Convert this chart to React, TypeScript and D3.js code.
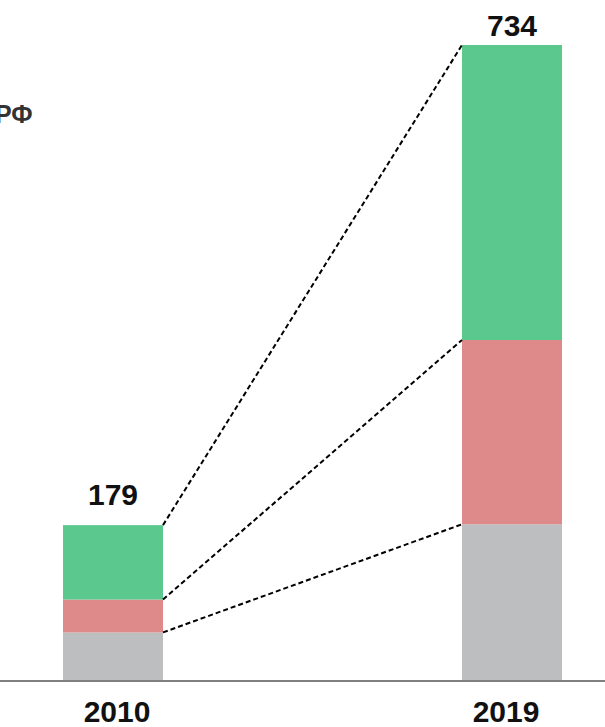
import React from 'react';
import * as d3 from 'd3';

// Years and the three stacked parts (bottom to top)
const years = ['2010', '2019'];
const greyPart = [55, 180];
const redPart = [38, 213];
const greenPart = [86, 341];
const totals = [179, 734];

const colors = ['#bdbec0', '#de8a8b', '#5bc88d'];

const App = () => {
  const width = 605;
  const height = 727;

  // band positions of the two bars
  const x = d3.scaleBand<string>()
    .domain(years)
    .range([63, 562])
    .paddingInner(299 / 399)
    .paddingOuter(0);

  const y = d3.scaleLinear().domain([0, 734]).range([680, 45]);

  const rows = years.map((yr, i) => ({ year: yr, grey: greyPart[i], red: redPart[i], green: greenPart[i] }));
  const series = d3.stack<any>().keys(['grey', 'red', 'green'])(rows);

  const bw = x.bandwidth();
  const x0 = x(years[0])! + bw;
  const x1 = x(years[1])!;
  const labelGap = [20, 9];

  return (
    <svg width={width} height={height} style={{ position: 'absolute', left: 0, top: 0 }}>
      <text x={-5} y={123} fontFamily="Liberation Sans, Arial" fontWeight="bold" fontSize={25} fill="#333">РФ</text>

      {series.map((s, k) => (
        <g key={k} fill={colors[k]}>
          {s.map((d, i) => (
            <rect key={i} x={x(years[i])} width={bw} y={y(d[1])} height={y(d[0]) - y(d[1])} />
          ))}
        </g>
      ))}

      {/* dashed links between segment tops */}
      {series.map((s, k) => (
        <line key={k} x1={x0} y1={y(s[0][1])} x2={x1} y2={y(s[1][1])}
          stroke="#000" strokeWidth={2} strokeDasharray="5,3" />
      ))}

      <line x1={0} x2={width} y1={681} y2={681} stroke="#7f7f7f" strokeWidth={2} />

      {years.map((yr, i) => (
        <text key={yr} x={x(yr)! + bw / 2} y={y(totals[i]) - labelGap[i]} textAnchor="middle"
          fontFamily="Liberation Sans, Arial" fontWeight="bold" fontSize={30} fill="#111">{totals[i]}</text>
      ))}
      {years.map((yr, i) => (
        <text key={yr} x={x(yr)! + bw / 2 + (i === 0 ? 4 : -6)} y={722} textAnchor="middle"
          fontFamily="Liberation Sans, Arial" fontWeight="bold" fontSize={30} fill="#111">{yr}</text>
      ))}
    </svg>
  );
};

export default App;
